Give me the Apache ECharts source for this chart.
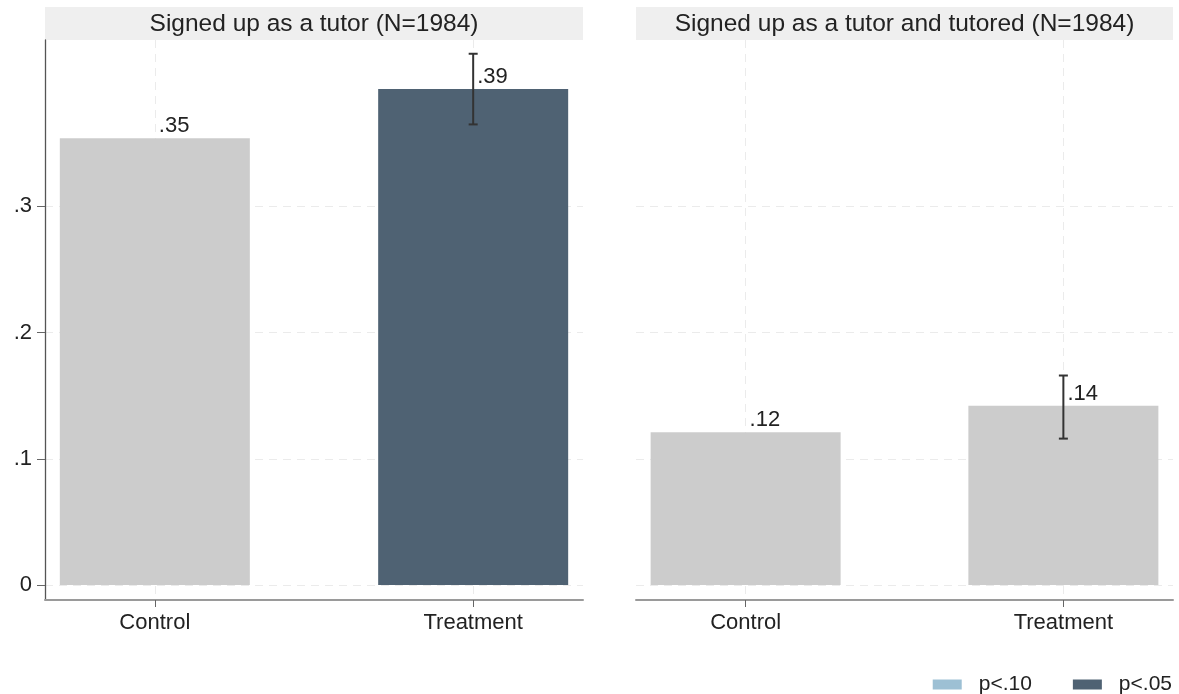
<!DOCTYPE html>
<html><head><meta charset="utf-8">
<script src="https://cdn.jsdelivr.net/npm/echarts@6/dist/echarts.min.js"></script>
<style>html,body{margin:0;padding:0;background:#fff}#c{width:1179px;height:694px}</style>
</head><body><div id="c"></div>
<script>
// ---- data ----
const categories = ['Control', 'Treatment'];
const panelTitles = ['Signed up as a tutor (N=1984)', 'Signed up as a tutor and tutored (N=1984)'];
const tutorMeans = [0.354, 0.393];
const tutorLow = [null, 0.365];
const tutorHigh = [null, 0.421];
const tutorSig = ['', 'p<.05'];
const tutoredMeans = [0.121, 0.142];
const tutoredLow = [null, 0.116];
const tutoredHigh = [null, 0.166];
const tutoredSig = ['', ''];
const yTicks = [0, 0.1, 0.2, 0.3];
const yTickLabels = ['0', '.1', '.2', '.3'];
const legendItems = ['p<.10', 'p<.05'];

// ---- styling ----
const FONT = '"Liberation Sans", Arial, Helvetica, sans-serif';
const TXT = '#222';
const sigColor = { '': '#cccccc', 'p<.10': '#9dc0d4', 'p<.05': '#4f6273' };
const gridDefs = [
  { left: 45, right: 596, top: 40, bottom: 94 },
  { left: 636, right: 6, top: 40, bottom: 94 }
];
const W = 1179;
const panels = [
  { means: tutorMeans, low: tutorLow, high: tutorHigh, sig: tutorSig, title: panelTitles[0] },
  { means: tutoredMeans, low: tutoredLow, high: tutoredHigh, sig: tutoredSig, title: panelTitles[1] }
];

const chart = echarts.init(document.getElementById('c'));
const xAxes = [], yAxes = [], series = [], graphics = [];

panels.forEach((p, i) => {
  xAxes.push({
    type: 'value', gridIndex: i, min: -0.345, max: 1.345,
    axisLine: { show: true, onZero: false, lineStyle: { color: '#9a9a9a', width: 2 } },
    axisTick: { show: true, customValues: [0, 1], length: 7, lineStyle: { color: '#666', width: 1 } },
    axisLabel: { customValues: [0, 1], formatter: v => categories[Math.round(v)], fontFamily: FONT, fontSize: 22, color: TXT, margin: 12 },
    splitLine: { show: true, lineStyle: { color: '#ebebeb', type: [8, 6], width: 1 } }
  });
  yAxes.push({
    type: 'value', gridIndex: i, min: -0.0119, max: 0.4319,
    axisLine: { show: i === 0, onZero: false, lineStyle: { color: '#555', width: 1.3 } },
    axisTick: { show: i === 0, customValues: yTicks, length: 8, lineStyle: { color: '#666', width: 1 } },
    axisLabel: { show: i === 0, customValues: yTicks, margin: 13, fontFamily: FONT, fontSize: 22, color: TXT,
      formatter: v => yTickLabels[yTicks.findIndex(t => Math.abs(t - v) < 1e-9)] },
    splitLine: { show: true, lineStyle: { color: '#ebebeb', type: [8, 6], width: 1 } }
  });
  series.push({
    type: 'bar', xAxisIndex: i, yAxisIndex: i, barWidth: 190, barGap: '-100%', z: 2,
    data: p.means.map((v, k) => ({ value: [k, v], itemStyle: { color: sigColor[p.sig[k]] } })),
    label: {
      show: true, position: 'top', distance: 1, align: 'left', offset: [4, 0],
      fontFamily: FONT, fontSize: 22, color: TXT,
      formatter: prm => prm.value[1].toFixed(2).replace(/^0/, '')
    }
  });
  const ebData = [];
  p.means.forEach((v, k) => { if (p.low[k] != null) ebData.push([k, p.low[k], p.high[k]]); });
  series.push({
    type: 'custom', xAxisIndex: i, yAxisIndex: i, z: 5,
    data: ebData,
    encode: { x: 0, y: [1, 2] },
    renderItem: (params, api) => {
      const x = api.value(0);
      const top = api.coord([x, api.value(2)]);
      const bot = api.coord([x, api.value(1)]);
      const cap = 4.5;
      const st = { stroke: '#333', lineWidth: 2 };
      return { type: 'group', children: [
        { type: 'line', shape: { x1: top[0], y1: top[1], x2: bot[0], y2: bot[1] }, style: st },
        { type: 'line', shape: { x1: top[0] - cap, y1: top[1], x2: top[0] + cap, y2: top[1] }, style: st },
        { type: 'line', shape: { x1: bot[0] - cap, y1: bot[1], x2: bot[0] + cap, y2: bot[1] }, style: st }
      ] };
    }
  });
  const g = gridDefs[i];
  const x0 = g.left, x1 = W - g.right;
  graphics.push({ type: 'rect', shape: { x: x0, y: 7, width: x1 - x0, height: 33 }, style: { fill: '#efefef' }, z: -1 });
  graphics.push({ type: 'text', x: (x0 + x1) / 2, y: 24, style: { text: p.title, font: '24.5px ' + FONT, fill: TXT, align: 'center', verticalAlign: 'middle', textAlign: 'center', textVerticalAlign: 'middle' }, z: 1 });
});

legendItems.forEach(name => {
  series.push({ type: 'bar', name: name, xAxisIndex: 0, yAxisIndex: 0, barWidth: 190, barGap: '-100%', data: [], itemStyle: { color: sigColor[name] } });
});

chart.setOption({
  animation: false,
  backgroundColor: '#fff',
  grid: gridDefs,
  xAxis: xAxes,
  yAxis: yAxes,
  series: series,
  graphic: graphics,
  legend: {
    data: legendItems, right: 2, top: 669, icon: 'rect', itemWidth: 29, itemHeight: 10, itemGap: 41,
    textStyle: { fontFamily: FONT, fontSize: 21, color: TXT, padding: [0, 0, 0, 12] }
  }
});
</script></body></html>
